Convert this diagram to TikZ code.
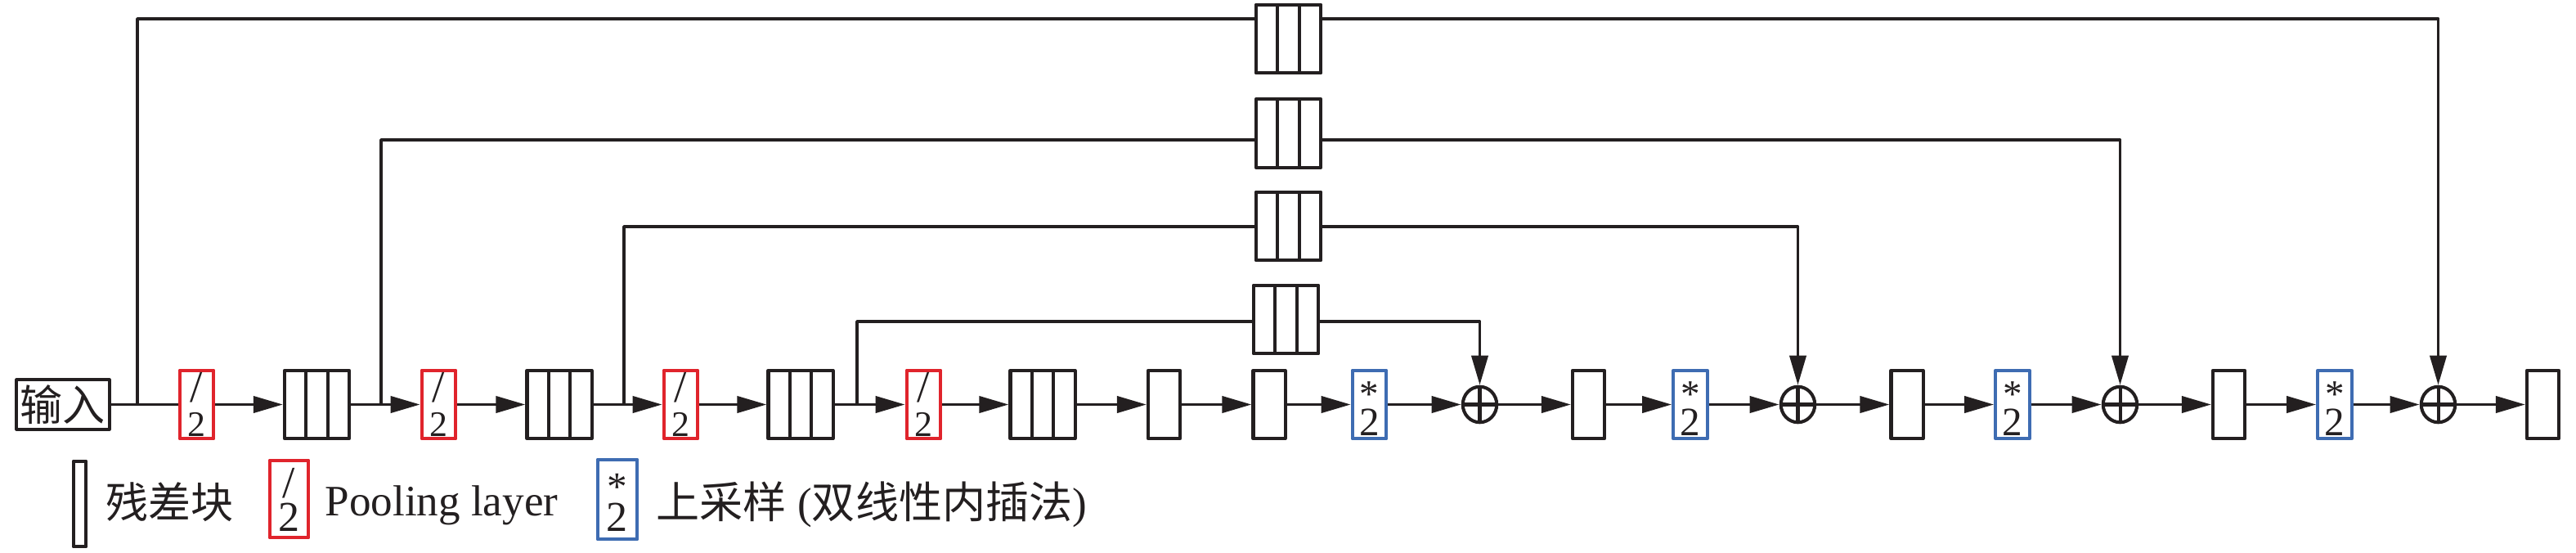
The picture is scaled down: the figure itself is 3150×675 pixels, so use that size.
\documentclass[tikz,border=0pt]{standalone}
\usepackage{fontspec}
\setmainfont{Liberation Serif}
\newfontfamily\cjk{Noto Sans CJK SC}
\usetikzlibrary{arrows.meta,shapes.geometric,calc}
\definecolor{ink}{RGB}{35,31,32}
\definecolor{poolred}{RGB}{224,36,44}
\definecolor{upblue}{RGB}{62,108,178}
\tikzset{
  conn/.style={draw=ink, line width=1.1pt, line join=round},
  arr/.style={conn, -{Triangle[length=0.36cm, width=0.2cm]}},
  blk/.style={draw=ink, line width=1.15pt, rectangle, inner sep=0pt, fill=white, line join=round},
  res/.style={blk, minimum width=0.39cm, minimum height=0.835cm},
  pool/.style={blk, draw=poolred, minimum width=0.415cm, minimum height=0.835cm},
  up/.style={blk, draw=upblue, minimum width=0.415cm, minimum height=0.835cm},
  triple/.style={blk, minimum width=0.79cm, minimum height=0.835cm,
    path picture={
      \draw[ink, line width=1.15pt]
        ($(path picture bounding box.south west)!1/3!(path picture bounding box.south east)$) --
        ($(path picture bounding box.north west)!1/3!(path picture bounding box.north east)$)
        ($(path picture bounding box.south west)!2/3!(path picture bounding box.south east)$) --
        ($(path picture bounding box.north west)!2/3!(path picture bounding box.north east)$);
    }},
  plus/.style={ellipse, draw=ink, line width=1.15pt, inner sep=0pt, fill=white,
    minimum width=0.415cm, minimum height=0.435cm,
    path picture={
      \draw[ink, line width=1.15pt]
        (path picture bounding box.north) -- (path picture bounding box.south)
        (path picture bounding box.west) -- (path picture bounding box.east);
    }},
  glyph/.style={inner sep=0pt, text=ink},
  slashf/.style={glyph, font=\fontsize{15.6}{15.6}\selectfont},
  twor/.style={glyph, font=\fontsize{12.5}{12.5}\selectfont},
  starf/.style={glyph, font=\fontsize{13.4}{13.4}\selectfont},
  twob/.style={glyph, font=\fontsize{14}{14}\selectfont},
}
\begin{document}
\begin{tikzpicture}[x=0.01cm, y=-0.01cm]
\useasboundingbox (0,0) rectangle (3150,675);

% ---------- main row ----------
\node[blk, minimum width=1.13cm, minimum height=0.605cm,
      font=\cjk\fontsize{14.8}{14.8}\selectfont, text=ink] (in) at (77,494.5) {输入};
\node[pool]   (p1) at (240.5,494.5) {};
\node[triple] (t1) at (387.5,494.5) {};
\node[pool]   (p2) at (536.5,494.5) {};
\node[triple] (t2) at (684,494.5) {};
\node[pool]   (p3) at (832.5,494.5) {};
\node[triple] (t3) at (979,494.5) {};
\node[pool]   (p4) at (1129.5,494.5) {};
\node[triple] (t4) at (1275,494.5) {};
\node[res]    (s1) at (1423.5,494.5) {};
\node[res]    (s2) at (1552,494.5) {};
\node[up]     (u1) at (1674.5,494.5) {};
\node[plus]   (c1) at (1809.5,494.5) {};
\node[res]    (s3) at (1942.5,494.5) {};
\node[up]     (u2) at (2067,494.5) {};
\node[plus]   (c2) at (2198.5,494.5) {};
\node[res]    (s4) at (2332,494.5) {};
\node[up]     (u3) at (2461,494.5) {};
\node[plus]   (c3) at (2592.5,494.5) {};
\node[res]    (s5) at (2725.5,494.5) {};
\node[up]     (u4) at (2855,494.5) {};
\node[plus]   (c4) at (2981.5,494.5) {};
\node[res]    (s6) at (3109.5,494.5) {};

% box contents
\foreach \n in {p1,p2,p3,p4} {
  \node[slashf, anchor=north] (\n-sl) at (\n.center |- 0,455) {/};
  \node[twor, anchor=south] (\n-two) at (\n.center |- 0,534) {2};
}
\foreach \n in {u1,u2,u3,u4} {
  \node[starf, anchor=south] (\n-st) at (\n.center |- 0,498.5) {*};
  \node[twob, anchor=south] (\n-two) at (\n.center |- 0,533.5) {2};
}

% main connectors
\draw[conn] (in) -- (p1);
\foreach \a/\b in {p1/t1, t1/p2, p2/t2, t2/p3, p3/t3, t3/p4, p4/t4, t4/s1, s1/s2, s2/u1,
                   u1/c1, c1/s3, s3/u2, u2/c2, c2/s4, s4/u3, u3/c3, c3/s5, s5/u4, u4/c4, c4/s6}
  \draw[arr] (\a) -- (\b);

% ---------- skip branches ----------
\node[triple, minimum width=0.795cm] (k1) at (1575.5,47.5) {};
\node[triple, minimum width=0.795cm] (k2) at (1575.5,163) {};
\node[triple, minimum width=0.795cm] (k3) at (1575.5,276.5) {};
\node[triple, minimum width=0.795cm] (k4) at (1572.5,390.5) {};

\coordinate (j1) at (168,494.5);  \coordinate (L1) at (168,23);
\coordinate (j2) at (466,494.5);  \coordinate (L2) at (466,171);
\coordinate (j3) at (763,494.5);  \coordinate (L3) at (763,277);
\coordinate (j4) at (1048,494.5); \coordinate (L4) at (1048,393);

\draw[conn] (j1) -- (L1) -- (L1 -| k1.west);
\draw[arr]  (L1 -| k1.east) -| (c4.north);
\draw[conn] (j2) -- (L2) -- (L2 -| k2.west);
\draw[arr]  (L2 -| k2.east) -| (c3.north);
\draw[conn] (j3) -- (L3) -- (L3 -| k3.west);
\draw[arr]  (L3 -| k3.east) -| (c2.north);
\draw[conn] (j4) -- (L4) -- (L4 -| k4.west);
\draw[arr]  (L4 -| k4.east) -| (c1.north);

% ---------- legend ----------
\node[res, minimum width=0.155cm, minimum height=1.045cm] (lr) at (97.5,616) {};
\node[glyph, anchor=base west, font=\cjk\fontsize{14.8}{14.8}\selectfont] (lrt) at (129,633) {残差块};

\node[pool, minimum width=0.475cm, minimum height=0.945cm] (lp) at (353.5,610) {};
\node[slashf, anchor=north] (lp-sl) at (lp.center |- 0,572) {/};
\node[glyph, anchor=south, font=\fontsize{14.8}{14.8}\selectfont] (lp-two) at (lp.center |- 0,650) {2};
\node[glyph, anchor=base west, font=\fontsize{15.1}{15.1}\selectfont] (lpt) at (397,630) {Pooling layer};

\node[up, minimum width=0.485cm, minimum height=0.975cm] (lu) at (755,610.5) {};
\node[glyph, anchor=south, font=\fontsize{14}{14}\selectfont] (lu-st) at (lu.center |- 0,612) {*};
\node[glyph, anchor=south, font=\fontsize{14.8}{14.8}\selectfont] (lu-two) at (lu.center |- 0,650) {2};
\node[glyph, anchor=base west, font=\fontsize{15.1}{15.1}\selectfont] (lut) at (802,633)
  {{\cjk 上采样} ({\cjk 双线性内插法})};
\end{tikzpicture}
\end{document}
